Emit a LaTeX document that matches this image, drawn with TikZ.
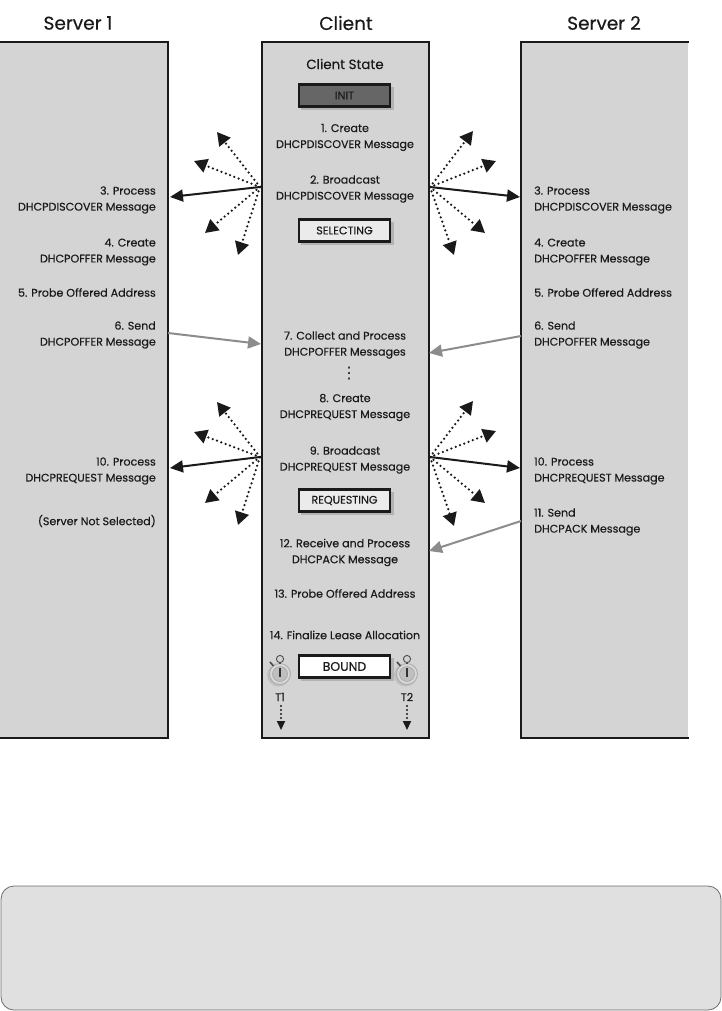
\documentclass[tikz,border=0pt]{standalone}
\usepackage{fontspec}
\setmainfont{Poppins}[FakeBold=0.35]
\newfontfamily\symff{DejaVu Sans}
\usetikzlibrary{arrows.meta}
\definecolor{panelgray}{HTML}{D4D4D4}
\definecolor{boxgray}{HTML}{E0E0E0}
\definecolor{arrowgray}{HTML}{8C8C8C}
\definecolor{inkdark}{HTML}{1A1A1A}
\newcommand{\msgfont}{\fontsize{11.1}{16}\selectfont}
\newcommand{\fanL}[6]{%
  \coordinate (#1o) at #2;
  \coordinate (#1a) at #3; \coordinate (#1b) at #4; \coordinate (#1d) at #5; \coordinate (#1e) at #6;
  \draw[dotarrow] (#1o) -- (#1a);
  \draw[dotarrow] (#1o) -- (#1b);
  \draw[dotarrow] (#1o) -- (#1d);
  \draw[dotarrow] (#1o) -- (#1e);
}
\newcommand{\stopwatch}[1]{%
  \begin{scope}[shift={#1}]
    \fill[gray!50] (-1.5,1) circle (11.5);
    \draw[gray!65,fill=gray!30,line width=.9] (0,0) circle (10.5);
    \draw[gray!70,fill=gray!50,line width=.6] (0,0) circle (7.5);
    \draw[gray!60!black,fill=gray!35,line width=.9] (0,-15) circle (3.6);
    \draw[gray!60!black,line width=1.6] (0,-12) -- (0,-10);
    \draw[gray!60!black,line width=1.6] (-10,-12) -- (-6.5,-8);
    \draw[black!80,line width=1.2] (0,-6) -- (0,3);
  \end{scope}
}
\tikzset{
  x=1pt,y=-1pt,
  panel/.style={fill=panelgray,draw=none},
  edgeline/.style={line width=2.8pt,draw=inkdark,line cap=rect},
  head/.style={font=\fontsize{18.5}{20}\selectfont,text=inkdark,inner sep=0pt},
  msg/.style={font=\msgfont,text=inkdark,inner sep=0pt},
  msgleft/.style={msg,align=right,anchor=east},
  msgright/.style={msg,align=left,anchor=west},
  msgmid/.style={msg,align=center},
  statebox/.style={draw=inkdark,line width=2.4pt,minimum width=91pt,minimum height=22pt,inner sep=0pt,font=\msgfont,text=inkdark},
  boxshadow/.style={fill=gray!60,draw=none},
  dotarrow/.style={line width=2.5pt,inkdark,line cap=round,dash pattern=on 0pt off 4.6pt,-{Triangle[length=13pt,width=14pt,fill=inkdark,line cap=butt]}},
  solidarrow/.style={line width=2pt,inkdark,-{Triangle[length=13pt,width=12pt,fill=inkdark]}},
  grayarrow/.style={line width=2pt,arrowgray,-{Triangle[length=13pt,width=12pt,fill=arrowgray]}},
  timerarrow/.style={line width=2.1pt,inkdark,line cap=round,dash pattern=on 0pt off 4pt,-{Triangle[length=9pt,width=8pt,fill=inkdark,line cap=butt]}},
}
\begin{document}
\begin{tikzpicture}
\useasboundingbox (0,0) rectangle (722,1011);
\fill[white] (0,0) rectangle (722,1011);

% panels
\fill[panel] (0,42) rectangle (168,738);
\fill[panel] (262,42) rectangle (429,738);
\fill[panel] (521,42) rectangle (688,738);
\draw[edgeline] (0,42) -- (168,42) -- (168,738) -- (0,738);
\draw[edgeline] (262,42) rectangle (429,738);
\draw[edgeline] (688,42) -- (521,42) -- (521,738) -- (688,738);

% headers
\node[head] (h1) at (78,23) {Server 1};
\node[head] (h2) at (346,23) {Client};
\node[head] (h3) at (604,23) {Server 2};
\node[font=\fontsize{13.4}{14}\selectfont,text=inkdark,inner sep=0pt] (cs) at (345,64) {Client State};

% state boxes
\fill[boxshadow] (301,87) rectangle (394,110);
\fill[boxshadow] (301,222) rectangle (394,245);
\fill[boxshadow] (301,492) rectangle (394,515);
\fill[boxshadow] (301,658) rectangle (394,681);
\node[statebox,fill=black!60] (init) at (344.5,95.5) {INIT};
\node[statebox,fill=black!8] (selecting) at (344.5,230.5) {SELECTING};
\node[statebox,fill=black!8] (requesting) at (344.5,500.5) {REQUESTING};
\node[statebox,fill=white,font=\fontsize{12.5}{16}\selectfont] (bound) at (344.5,666.5) {BOUND};

% client messages
\node[msgmid] (c1) at (345,137.5) {1. Create\\DHCPDISCOVER Message};
\node[msgmid] (c2) at (345,189) {2. Broadcast\\DHCPDISCOVER Message};
\node[msgmid] (c7) at (345,345) {7. Collect and Process\\DHCPOFFER Messages};
\node[text=inkdark,inner sep=0pt,font=\symff\fontsize{16}{16}\selectfont] (cdots) at (349,374) {⋮};
\node[msgmid] (c8) at (345,407.5) {8. Create\\DHCPREQUEST Message};
\node[msgmid] (c9) at (345,460) {9. Broadcast\\DHCPREQUEST Message};
\node[msgmid] (c12) at (345,552.5) {12. Receive and Process\\DHCPACK Message};
\node[msgmid] (c13) at (345,593.5) {13. Probe Offered Address};
\node[msgmid] (c14) at (345,635) {14. Finalize Lease Allocation};

% server 1 messages
\node[msgleft] (l3) at (156,200) {3. Process\\DHCPDISCOVER Message};
\node[msgleft] (l4) at (156,252) {4. Create\\DHCPOFFER Message};
\node[msgleft] (l5) at (156,292.5) {5. Probe Offered Address};
\node[msgleft] (l6) at (156,335) {6. Send\\DHCPOFFER Message};
\node[msgleft] (l10) at (156,471) {10. Process\\DHCPREQUEST Message};
\node[msgleft] (l11) at (156,521) {(Server Not Selected)};

% server 2 messages
\node[msgright] (r3) at (534,200) {3. Process\\DHCPDISCOVER Message};
\node[msgright] (r4) at (534,252) {4. Create\\DHCPOFFER Message};
\node[msgright] (r5) at (534,292.5) {5. Probe Offered Address};
\node[msgright] (r6) at (534,335) {6. Send\\DHCPOFFER Message};
\node[msgright] (r10) at (534,471) {10. Process\\DHCPREQUEST Message};
\node[msgright] (r11) at (534,522) {11. Send\\DHCPACK Message};

% fans
\fanL{fa}{(260,187)}{(217,132)}{(194,161)}{(205,233)}{(238,255)}
\fanL{fb}{(430,187)}{(473,131)}{(496,161)}{(485,233)}{(454,255)}
\fanL{fc}{(260,457)}{(217,402)}{(194,432)}{(205,503)}{(238,525)}
\fanL{fd}{(430,457)}{(473,401)}{(496,431)}{(485,503)}{(454,526)}
\coordinate (sa) at (170,197);
\coordinate (sb) at (520,197);
\coordinate (sc) at (170,468);
\coordinate (sd) at (520,468);
\draw[solidarrow] (fao) -- (sa);
\draw[solidarrow] (fbo) -- (sb);
\draw[solidarrow] (fco) -- (sc);
\draw[solidarrow] (fdo) -- (sd);

% gray arrows
\coordinate (g1s) at (168,333); \coordinate (g1e) at (261,344);
\coordinate (g2s) at (521,336); \coordinate (g2e) at (429,353);
\coordinate (g3s) at (521,521); \coordinate (g3e) at (429,551);
\draw[grayarrow] (g1s) -- (g1e);
\draw[grayarrow] (g2s) -- (g2e);
\draw[grayarrow] (g3s) -- (g3e);

% timers
\stopwatch{(280,674)}
\stopwatch{(407,674)}
\node[msg] (t1l) at (280,697) {T1};
\node[msg] (t2l) at (407,697) {T2};
\coordinate (t1a) at (281,706); \coordinate (t1b) at (281,730);
\coordinate (t2a) at (407,706); \coordinate (t2b) at (407,730);
\draw[timerarrow] (t1a) -- (t1b);
\draw[timerarrow] (t2a) -- (t2b);

% bottom box
\draw[fill=boxgray,draw=gray!85!black,line width=.8pt,rounded corners=13pt] (1,886) rectangle (721,1010);
\end{tikzpicture}
\end{document}
